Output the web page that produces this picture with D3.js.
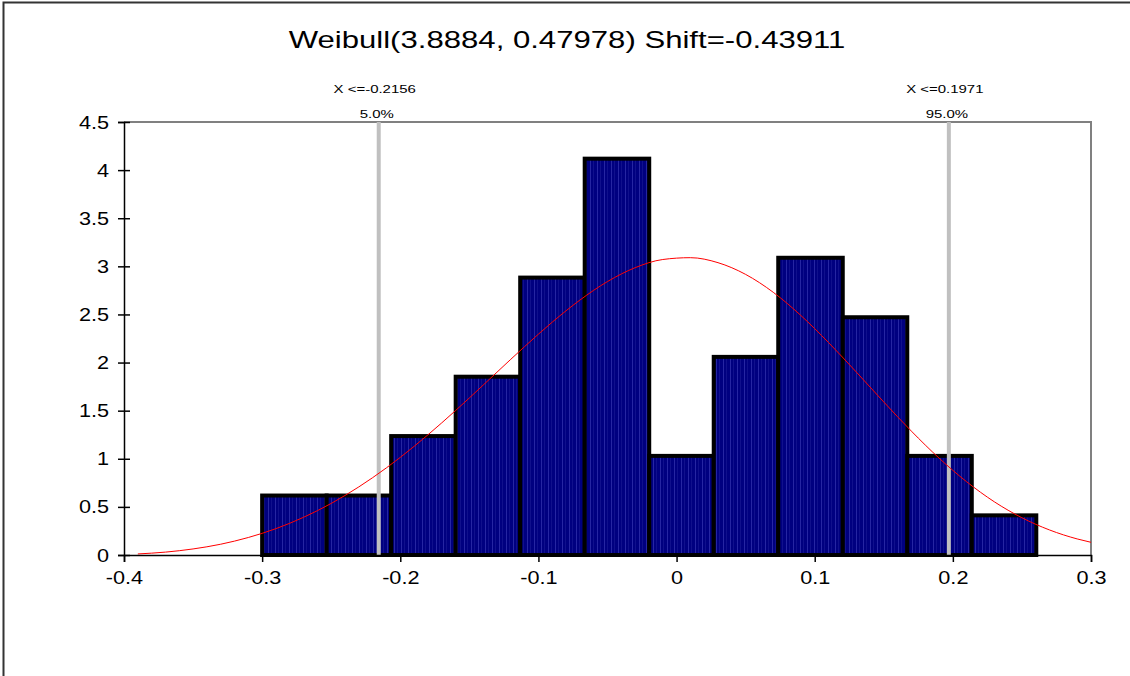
<!DOCTYPE html>
<html>
<head>
<meta charset="utf-8">
<script src="https://cdn.jsdelivr.net/npm/d3@7"></script>
<style>
  html, body { margin: 0; padding: 0; background: #fff; }
  svg { display: block; font-family: Arial, "Liberation Sans", sans-serif; }
</style>
</head>
<body>
<svg id="chart" width="1130" height="676"></svg>
<script>
// ---- data ----
const titleText = "Weibull(3.8884, 0.47978) Shift=-0.43911";
const binEdges = [-0.3000, -0.2533, -0.2066, -0.1599, -0.1132, -0.0665, -0.0198, 0.0269, 0.0736, 0.1203, 0.1670, 0.2137, 0.2604];
const binDensity = [0.618, 0.618, 1.236, 1.853, 2.883, 4.119, 1.030, 2.059, 3.089, 2.471, 1.030, 0.412];
const curveX = [-0.39, -0.37, -0.35, -0.33, -0.31, -0.29, -0.27, -0.25, -0.23, -0.21, -0.19, -0.17, -0.15, -0.13, -0.11, -0.09, -0.07, -0.05, -0.03, -0.01, 0.01, 0.03, 0.05, 0.07, 0.09, 0.11, 0.13, 0.15, 0.17, 0.19, 0.21, 0.23, 0.25, 0.27, 0.29, 0.30];
const curveY = [0.011, 0.030, 0.063, 0.112, 0.182, 0.274, 0.392, 0.536, 0.708, 0.906, 1.129, 1.373, 1.632, 1.900, 2.166, 2.420, 2.649, 2.842, 2.986, 3.071, 3.090, 3.038, 2.916, 2.730, 2.489, 2.208, 1.903, 1.590, 1.287, 1.007, 0.761, 0.553, 0.387, 0.260, 0.167, 0.132];
const markerValues = [-0.2156, 0.1971];
const markerLabels = ["X <=-0.2156", "X <=0.1971"];
const markerPcts = ["5.0%", "95.0%"];
const xTickValues = [-0.4, -0.3, -0.2, -0.1, 0, 0.1, 0.2, 0.3];
const yTickValues = [0, 0.5, 1, 1.5, 2, 2.5, 3, 3.5, 4, 4.5];

// ---- layout ----
const svg = d3.select("#chart");
const x = d3.scaleLinear().domain([-0.4, 0.3]).range([124, 1091]);
const y = d3.scaleLinear().domain([0, 4.5]).range([555, 122]);

function stretch(sel, f) {
  sel.each(function() {
    const w = this.getComputedTextLength();
    this.setAttribute("textLength", w * f);
    this.setAttribute("lengthAdjust", "spacingAndGlyphs");
  });
}

// outer frame
svg.append("path").attr("d", "M3.5,680 V2.5 H1135")
  .attr("fill", "none").attr("stroke", "#333").attr("stroke-width", 2);

// pattern for bars
const defs = svg.append("defs");
const pat = defs.append("pattern").attr("id", "stripes").attr("patternUnits", "userSpaceOnUse")
  .attr("width", 7).attr("height", 10);
pat.append("rect").attr("width", 7).attr("height", 10).attr("fill", "#000080");
pat.append("rect").attr("x", 2).attr("width", 1).attr("height", 10).attr("fill", "#2626a2");
pat.append("rect").attr("x", 5).attr("width", 1).attr("height", 10).attr("fill", "#10108c");

// plot border (top, right)
svg.append("path").attr("d", `M${x(-0.4)},${y(4.5)} H${x(0.3)} V${y(0)}`)
  .attr("fill", "none").attr("stroke", "#808080").attr("stroke-width", 2);

// bars
svg.append("g").selectAll("rect").data(binDensity).join("rect")
  .attr("x", (d, i) => x(binEdges[i]))
  .attr("width", (d, i) => x(binEdges[i + 1]) - x(binEdges[i]))
  .attr("y", d => y(d))
  .attr("height", d => y(0) - y(d))
  .attr("fill", "url(#stripes)")
  .attr("stroke", "#000").attr("stroke-width", 4);

// marker lines
svg.append("g").selectAll("line").data(markerValues).join("line")
  .attr("x1", d => x(d)).attr("x2", d => x(d))
  .attr("y1", y(4.5)).attr("y2", y(0))
  .attr("stroke", "#c0c0c0").attr("stroke-width", 4);

// fitted curve
const pts = curveX.map((v, i) => [v, curveY[i]]);
svg.append("path").datum(pts)
  .attr("d", d3.line().x(d => x(d[0])).y(d => y(d[1])).curve(d3.curveMonotoneX))
  .attr("fill", "none").attr("stroke", "#ff0000").attr("stroke-width", 1);

// axes
const xAxis = svg.append("g").attr("transform", `translate(0,${y(0)})`)
  .call(d3.axisBottom(x).tickValues(xTickValues).tickSize(7).tickPadding(9)
    .tickFormat(d => d === 0 ? "0" : d3.format(".1f")(d).replace("−", "-")));
xAxis.select(".domain").attr("stroke", "#000").attr("stroke-width", 1.5);
xAxis.selectAll(".tick line").attr("stroke", "#000").attr("stroke-width", 1.5);
xAxis.selectAll(".tick text").attr("font-size", 19).attr("fill", "#000")
  .attr("font-family", "Arial, 'Liberation Sans', sans-serif").call(stretch, 1.14);

const yAxis = svg.append("g").attr("transform", `translate(${x(-0.4)},0)`)
  .call(d3.axisLeft(y).tickValues(yTickValues).tickSize(6).tickPadding(9)
    .tickFormat(d => String(d)));
yAxis.select(".domain").attr("stroke", "#000").attr("stroke-width", 1.5);
yAxis.selectAll(".tick line").attr("stroke", "#000").attr("stroke-width", 1.5).attr("x2", 6).attr("x1", -6);
yAxis.selectAll(".tick text").attr("font-size", 19).attr("fill", "#000")
  .attr("font-family", "Arial, 'Liberation Sans', sans-serif").call(stretch, 1.14);

// marker labels
const ml = svg.append("g").attr("font-size", 11.5).attr("fill", "#000").attr("text-anchor", "middle");
ml.selectAll("text.lab").data(markerValues).join("text").attr("class", "lab")
  .attr("x", d => x(d) - 4).attr("y", 93).text((d, i) => markerLabels[i]).call(stretch, 1.3);
ml.selectAll("text.pct").data(markerValues).join("text").attr("class", "pct")
  .attr("x", d => x(d) - 2).attr("y", 118).text((d, i) => markerPcts[i]).call(stretch, 1.3);

// title
svg.append("text").attr("x", 567).attr("y", 48).attr("text-anchor", "middle")
  .attr("font-size", 24.5).attr("fill", "#000").text(titleText).call(stretch, 1.27);
</script>
</body>
</html>
